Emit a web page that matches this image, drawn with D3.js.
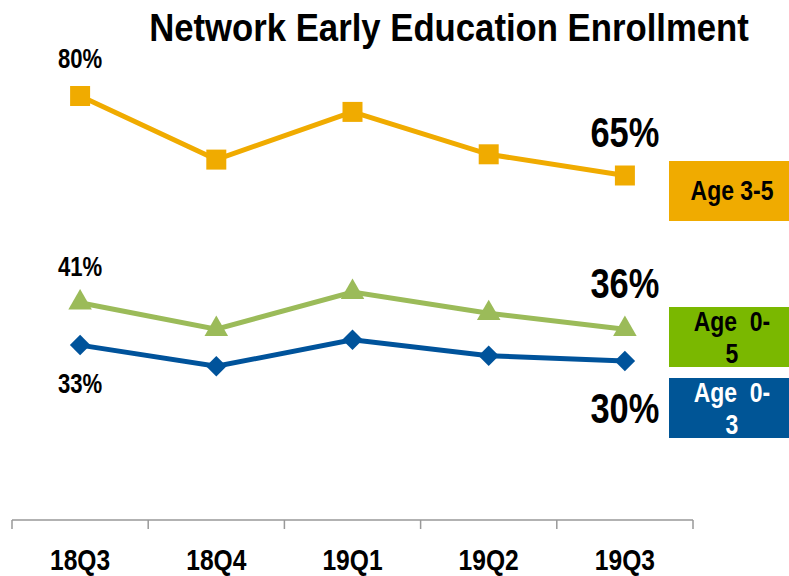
<!DOCTYPE html>
<html>
<head>
<meta charset="utf-8">
<script src="https://cdn.jsdelivr.net/npm/d3@7"></script>
<style>
  body { margin: 0; background: #fff; }
  svg text { font-family: "Liberation Sans", Arial, sans-serif; font-weight: bold; }
</style>
</head>
<body>
<div id="chart"></div>
<script>
// quarters and the three series (percent)
var quarters = ["18Q3", "18Q4", "19Q1", "19Q2", "19Q3"];
var age35 = [80, 68, 77, 69, 65];
var age05 = [41, 36, 43, 39, 36];
var age03 = [33, 29, 34, 31, 30];

var seriesNames = ["Age 3-5", "Age  0-5", "Age  0-3"];
var legendLines = [["Age 3-5"], ["Age  0-", "5"], ["Age  0-", "3"]];

var width = 789, height = 576;
var squeeze = 0.82; // no narrow font installed, so squash Liberation Sans

var svg = d3.select("#chart").append("svg")
    .attr("width", width)
    .attr("height", height);

// text helper: condensed bold text at (x, y)
function narrowText(parent, tx, ty, str, size, fill, sx) {
    var t = parent.append("text")
        .attr("transform", "translate(" + tx + "," + ty + ") scale(" + (sx || squeeze) + ",1)")
        .attr("text-anchor", "middle")
        .attr("fill", fill || "#000")
        .style("font-size", size + "px")
        .style("white-space", "pre")
        .text(str);
    return t;
}

var x = d3.scaleBand()
    .domain(quarters)
    .range([12, 693]);

var y = d3.scaleLinear()
    .domain([0, 80])
    .range([520, 96]);

// title
narrowText(svg, 449, 41, "Network Early Education Enrollment", 39, "#000", 0.89);

// x axis: baseline with ticks at band edges
var axisG = svg.append("g").attr("class", "axis");
axisG.append("line")
    .attr("x1", x.range()[0]).attr("x2", x.range()[1])
    .attr("y1", y(0)).attr("y2", y(0))
    .attr("stroke", "#999").attr("stroke-width", 1.5);

var edges = quarters.map(function(q) { return x(q); }).concat([x.range()[1]]);
axisG.selectAll(".tick")
    .data(edges)
    .enter().append("line")
    .attr("x1", function(d) { return d; })
    .attr("x2", function(d) { return d; })
    .attr("y1", y(0))
    .attr("y2", y(0) + 9)
    .attr("stroke", "#999").attr("stroke-width", 1.5);

quarters.forEach(function(q) {
    narrowText(axisG, x(q) + x.bandwidth() / 2, 570, q, 30);
});

var cx = function(i) { return x(quarters[i]) + x.bandwidth() / 2; };

var series = [
    { name: seriesNames[0], values: age35, line: "#F0AB00", box: "#F0AB00", text: "#000",
      symbol: d3.symbolSquare, size: 400, rotate: 0, off: [-28, -29] },
    { name: seriesNames[1], values: age05, line: "#9BBB59", box: "#7AB800", text: "#000",
      symbol: d3.symbolTriangle, size: 240, rotate: 0, off: [-27, -31] },
    { name: seriesNames[2], values: age03, line: "#00539B", box: "#005596", text: "#fff",
      symbol: d3.symbolSquare, size: 210, rotate: 45, off: [48, 62] }
];

var line = d3.line()
    .x(function(d, i) { return cx(i); })
    .y(function(d) { return y(d); });

// draw lower series first so orange is on top
series.slice().reverse().forEach(function(s) {
    var g = svg.append("g");
    g.append("path")
        .datum(s.values)
        .attr("fill", "none")
        .attr("stroke", s.line)
        .attr("stroke-width", 5)
        .attr("d", line);

    g.selectAll(".mk")
        .data(s.values)
        .enter().append("path")
        .attr("fill", s.line)
        .attr("d", d3.symbol().type(s.symbol).size(s.size))
        .attr("transform", function(d, i) {
            return "translate(" + cx(i) + "," + y(d) + ") rotate(" + s.rotate + ")";
        });

    // first and last value labels
    var last = s.values.length - 1;
    narrowText(g, cx(0), y(s.values[0]) + s.off[0], s.values[0] + "%", 27);
    narrowText(g, cx(last), y(s.values[last]) + s.off[1], s.values[last] + "%", 42);
});

// legend boxes on the right
var legendTop = [161, 307, 378];
var legendH = 60;
series.forEach(function(s, i) {
    var lg = svg.append("g");
    lg.append("rect")
        .attr("x", 669)
        .attr("y", legendTop[i])
        .attr("width", 130)
        .attr("height", legendH)
        .attr("fill", s.box);
    var lines = legendLines[i];
    lines.forEach(function(l, k) {
        var ly = lines.length == 1 ? legendTop[i] + 39 : legendTop[i] + 24 + k * 32;
        narrowText(lg, 732, ly, l, 28, s.text);
    });
});
</script>
</body>
</html>
